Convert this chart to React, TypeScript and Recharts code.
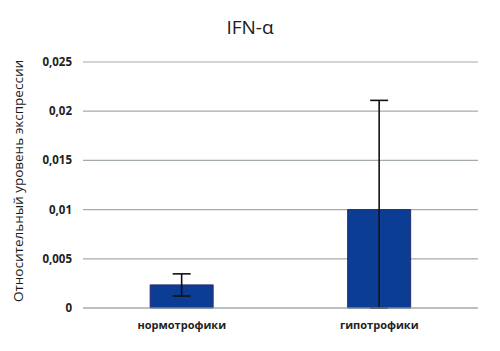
import { Bar, BarChart, CartesianGrid, ErrorBar, XAxis, YAxis } from "recharts";

const groups = ["нормотрофики", "гипотрофики"];
const expression = [0.00235, 0.01];
const errorLow = [0.00113, 0.01];
const errorHigh = [0.00112, 0.0111];
const yTicks = [0, 0.005, 0.01, 0.015, 0.02, 0.025];

const data = groups.map((group, i) => ({
  group,
  value: expression[i],
  err: [errorLow[i], errorHigh[i]],
}));

const font = "'Open Sans', 'Liberation Sans', sans-serif";

const fmt = (v: number) => (v === 0 ? "0" : String(v).replace(".", ","));

export default function App() {
  return (
    <div style={{ position: "absolute", left: 0, top: 0, width: 500, height: 351, background: "#fff", fontFamily: font }}>
      <div style={{ position: "absolute", top: 14, left: 0, width: 500, textAlign: "center", fontSize: 19, color: "#1a1a1a" }}>
        IFN-α
      </div>
      <BarChart width={500} height={351} data={data} margin={{ top: 62, right: 22, bottom: 13, left: 0 }} barCategoryGap="34%">
        <CartesianGrid vertical={false} stroke="#a3abab" strokeWidth={1.2} />
        <XAxis
          dataKey="group"
          axisLine={{ stroke: "#a3abab", strokeWidth: 1.2 }}
          tickLine={false}
          tickMargin={7}
          tick={{ fill: "#222", fontSize: 11, fontWeight: 700, fontFamily: font }}
        />
        <YAxis
          width={83}
          domain={[0, 0.025]}
          ticks={yTicks}
          tickFormatter={fmt}
          axisLine={false}
          tickLine={false}
          tickMargin={5}
          tick={{ fill: "#222", fontSize: 11.5, fontWeight: 700, fontFamily: font }}
          label={{
            value: "Относительный уровень экспрессии",
            angle: -90,
            position: "insideLeft",
            offset: 18,
            dy: -4,
            style: { fill: "#1a1a1a", fontSize: 13.5, fontFamily: font, textAnchor: "middle" },
          }}
        />
        <Bar dataKey="value" fill="#0b3d94" stroke="#2b2a6e" strokeWidth={1} isAnimationActive={false}>
          <ErrorBar dataKey="err" width={9} stroke="#111" strokeWidth={1.6} isAnimationActive={false} />
        </Bar>
      </BarChart>
    </div>
  );
}
